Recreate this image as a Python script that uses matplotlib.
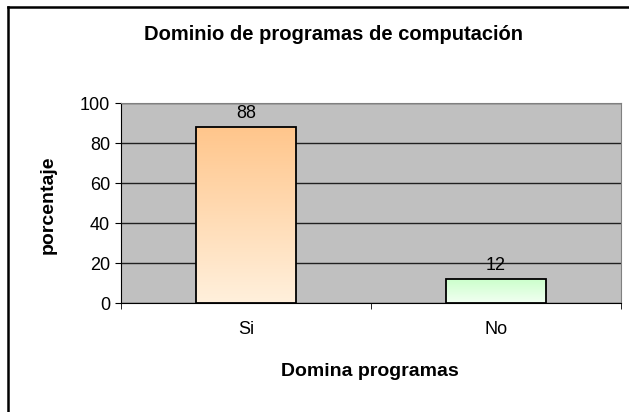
import numpy as np
import matplotlib.pyplot as plt
from matplotlib.patches import Rectangle
from matplotlib.lines import Line2D

categorias = ['Si', 'No']
porcentaje = [88, 12]
colores_top = ['#FFC68C', '#CCFFCC']
colores_bot = ['#FFF0DC', '#F2FFF2']

plt.rcParams['font.family'] = ['Liberation Sans', 'DejaVu Sans']

W, H = 629, 412
fig = plt.figure(figsize=(W / 100, H / 100), dpi=100)
ax = fig.add_axes([121 / W, 1 - 303 / H, 500 / W, 200 / H])
ax.set_facecolor('#C0C0C0')

x = np.arange(len(categorias))
ancho = 0.40
bars = ax.bar(x, porcentaje, width=ancho, color='none', edgecolor='black',
              linewidth=1.3, zorder=3)

# degradado vertical en cada barra
for b, ct, cb in zip(bars, colores_top, colores_bot):
    c1 = np.array(plt.matplotlib.colors.to_rgb(ct))
    c2 = np.array(plt.matplotlib.colors.to_rgb(cb))
    t = np.linspace(0, 1, 100)[:, None]
    grad = (c2 * (1 - t) + c1 * t)[:, None, :]
    x0, y0 = b.get_x(), b.get_y()
    w, h = b.get_width(), b.get_height()
    im = ax.imshow(grad, extent=[x0, x0 + w, y0, y0 + h], origin='lower',
                   aspect='auto', zorder=2)
    im.set_clip_path(Rectangle((x0, y0), w, h, transform=ax.transData))

for xi, v in zip(x, porcentaje):
    ax.text(xi, v + 2.5, str(v), ha='center', va='bottom', fontsize=13)

ax.set_xlim(-0.5, 1.5)
ax.set_ylim(0, 100)
ax.set_yticks([0, 20, 40, 60, 80, 100])
ax.yaxis.grid(True, color='#202020', linewidth=1)
ax.set_axisbelow(True)
ax.set_xticks(x)
ax.set_xticklabels(categorias, fontsize=13)
ax.set_xticks([-0.5, 0.5, 1.5], minor=True)
ax.tick_params(axis='x', which='major', length=0, pad=13)
ax.tick_params(axis='x', which='minor', length=4, direction='out')
ax.tick_params(axis='y', length=4, direction='out', labelsize=13, pad=4)
ax.spines['top'].set_color('#808080')
ax.spines['right'].set_color('#808080')
ax.spines['left'].set_color('black')
ax.spines['bottom'].set_color('black')

fig.text(333 / W, 1 - 35 / H, 'Dominio de programas de computación', ha='center',
         va='center', fontsize=14.5, fontweight='bold')
fig.text(370 / W, 1 - 372 / H, 'Domina programas', ha='center', va='center',
         fontsize=14, fontweight='bold')
fig.text(48 / W, 1 - 205 / H, 'porcentaje', ha='center', va='center',
         fontsize=14, fontweight='bold', rotation=90)

# borde del grafico (solo visible a la izquierda y arriba)
fig.lines.append(Line2D([8 / W, 8 / W], [0, 1 - 7 / H], transform=fig.transFigure,
                        color='black', linewidth=1.8))
fig.lines.append(Line2D([8 / W, 1], [1 - 7 / H, 1 - 7 / H], transform=fig.transFigure,
                        color='black', linewidth=1.8))

fig.savefig('out.png', dpi=100)
